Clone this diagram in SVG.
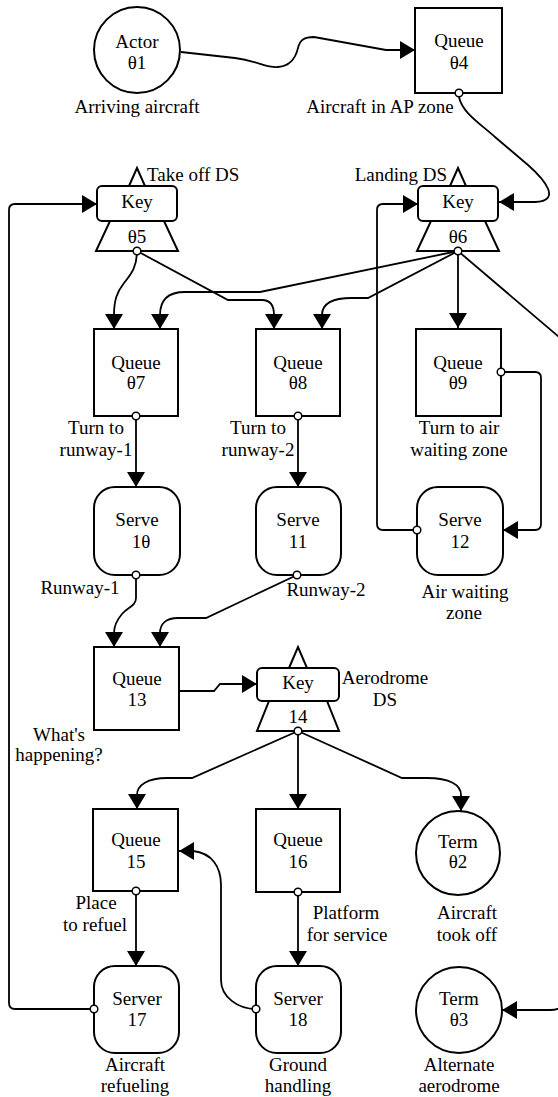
<svg xmlns="http://www.w3.org/2000/svg" width="558" height="1097" viewBox="0 0 558 1097">
<style>
text{font-family:"Liberation Serif","Times New Roman",serif;font-size:19px;fill:#000;text-anchor:middle}
.s{fill:#fff;stroke:#000;stroke-width:2}
.c{fill:none;stroke:#000;stroke-width:1.8;marker-end:url(#ah)}
.p{fill:#fff;stroke:#000;stroke-width:1.5}
.st{text-anchor:start}
.en{text-anchor:end}
</style>
<defs>
<marker id="ah" viewBox="0 0 15 18" refX="15" refY="9" markerWidth="15" markerHeight="18" markerUnits="userSpaceOnUse" orient="auto">
<path d="M0,0 L15,9 L0,18 z" fill="#000"/>
</marker>
</defs>
<rect width="558" height="1097" fill="#fff"/>
<g id="connectors">
<path class="c" d="M181,52 L235,58 C258,61 266,68 278,67 C292,66 296,56 298,48 C300,40 304,37 314,37 L386,50 L415,50"/>
<path class="c" d="M459,97 C462,112 478,122 495,137 L528,165 C545,180 562,201 535,202 L499,202"/>
<path class="c" d="M94,1009 L15,1009 Q9,1009 9,1003 L9,210 Q9,204 15,204 L97,204"/>
<path class="c" d="M417,530 L383,530 Q377,530 377,524 L377,210 Q377,204 383,204 L418,204"/>
<path class="c" d="M501,372 L535,372 Q541,372 541,378 L541,524 Q541,530 535,530 L503,530"/>
<path class="c" d="M137,251 C137,268 130,275 124,283 C117,292 114,300 114,315 L114,329"/>
<path class="c" d="M137,251 L228,300 L262,300 C270,300 274,305 274,315 L274,329"/>
<path class="c" d="M458,251 L260,292 L185,292 C168,292 160,300 160,315 L160,329"/>
<path class="c" d="M458,251 L368,298 L352,298 C330,298 322,305 322,315 L322,329"/>
<path class="c" d="M458,251 L458,328"/>
<path class="c" d="M458,251 L566,343 L566,995 C566,1006 560,1010 550,1010 L502,1010"/>
<path class="c" d="M136,416 L136,487"/>
<path class="c" d="M298,416 L298,487"/>
<path class="c" d="M136,575 L136,598 C136,606 128,607 122,614 C116,621 114,626 114,633 L114,647"/>
<path class="c" d="M297,575 L206,618 L178,618 C166,618 160,624 160,633 L160,647"/>
<path class="c" d="M179,691 L214,691 L220,684 L257,684"/>
<path class="c" d="M298,731 L192,778 L167,778 C148,778 137,785 137,795 L137,809"/>
<path class="c" d="M298,731 L298,809"/>
<path class="c" d="M298,731 L402,778 L427,778 C450,778 461,785 461,795 L461,811"/>
<path class="c" d="M136,891 L136,966"/>
<path class="c" d="M298,892 L298,966"/>
<path class="c" d="M256,1009 C238,1009 221,997 221,980 L221,885 C221,867 212,853 193,851 L179,851"/>
</g>
<g id="actor1">
<circle class="s" cx="137" cy="50" r="43"/>
<text x="137" y="48">Actor</text>
<text x="137" y="69">θ1</text>
<text x="137" y="113">Arriving aircraft</text>
</g>
<g id="queue4">
<rect class="s" x="415" y="8" width="87" height="85"/>
<text x="459" y="47">Queue</text>
<text x="459" y="69">θ4</text>
<circle class="p" cx="459" cy="93" r="3.8"/>
<text x="380" y="113">Aircraft in AP zone</text>
</g>
<g id="key5">
<polygon class="s" points="129,186 137,168 145,186"/>
<polygon class="s" points="110,221 164,221 178,251 96,251"/>
<rect class="s" x="97" y="186" width="80" height="35" rx="5"/>
<text x="137" y="208">Key</text>
<text x="137" y="243">θ5</text>
<circle class="p" cx="137" cy="251" r="3.8"/>
<text class="st" x="147" y="181">Take off DS</text>
</g>
<g id="key6">
<polygon class="s" points="450,186 458,168 466,186"/>
<polygon class="s" points="431,221 485,221 499,251 417,251"/>
<rect class="s" x="418" y="186" width="80" height="35" rx="5"/>
<text x="458" y="208">Key</text>
<text x="458" y="243">θ6</text>
<circle class="p" cx="458" cy="251" r="3.8"/>
<text class="en" x="447" y="181">Landing DS</text>
</g>
<g id="queue7">
<rect class="s" x="94" y="329" width="84" height="87"/>
<text x="136" y="369">Queue</text>
<text x="136" y="389">θ7</text>
<circle class="p" cx="136" cy="416" r="3.8"/>
<text x="96" y="434">Turn to</text>
<text x="96" y="456">runway-1</text>
</g>
<g id="queue8">
<rect class="s" x="256" y="329" width="84" height="87"/>
<text x="298" y="369">Queue</text>
<text x="298" y="389">θ8</text>
<circle class="p" cx="298" cy="416" r="3.8"/>
<text x="258" y="434">Turn to</text>
<text x="258" y="456">runway-2</text>
</g>
<g id="queue9">
<rect class="s" x="416" y="329" width="85" height="87"/>
<text x="458" y="369">Queue</text>
<text x="458" y="389">θ9</text>
<circle class="p" cx="501" cy="372" r="3.8"/>
<text x="459" y="434">Turn to air</text>
<text x="459" y="456">waiting zone</text>
</g>
<g id="serve10">
<rect class="s" x="94" y="487" width="86" height="88" rx="21"/>
<text x="137" y="526">Serve</text>
<text x="141" y="548">1θ</text>
<circle class="p" cx="136" cy="575" r="3.8"/>
<text x="80" y="594">Runway-1</text>
</g>
<g id="serve11">
<rect class="s" x="256" y="487" width="85" height="88" rx="21"/>
<text x="298" y="526">Serve</text>
<text x="298" y="548">11</text>
<circle class="p" cx="297" cy="575" r="3.8"/>
<text x="326" y="596">Runway-2</text>
</g>
<g id="serve12">
<rect class="s" x="417" y="487" width="86" height="88" rx="21"/>
<text x="460" y="526">Serve</text>
<text x="460" y="548">12</text>
<circle class="p" cx="417" cy="530" r="3.8"/>
<text x="465" y="598">Air waiting</text>
<text x="464" y="619">zone</text>
</g>
<g id="queue13">
<rect class="s" x="94" y="647" width="85" height="83"/>
<text x="137" y="685">Queue</text>
<text x="137" y="706">13</text>
<text x="59" y="741">What's</text>
<text x="59" y="761">happening?</text>
</g>
<g id="key14">
<polygon class="s" points="289,668 298,647 307,668"/>
<polygon class="s" points="269,701 327,701 339,731 257,731"/>
<rect class="s" x="257" y="668" width="82" height="33" rx="5"/>
<text x="298" y="689">Key</text>
<text x="298" y="723">14</text>
<circle class="p" cx="298" cy="731" r="3.8"/>
<text x="385" y="684">Aerodrome</text>
<text x="385" y="706">DS</text>
</g>
<g id="queue15">
<rect class="s" x="93" y="809" width="85" height="82"/>
<text x="136" y="846">Queue</text>
<text x="136" y="868">15</text>
<circle class="p" cx="136" cy="891" r="3.8"/>
<text x="96" y="909">Place</text>
<text x="95" y="931">to refuel</text>
</g>
<g id="queue16">
<rect class="s" x="256" y="809" width="84" height="83"/>
<text x="298" y="846">Queue</text>
<text x="298" y="868">16</text>
<circle class="p" cx="298" cy="892" r="3.8"/>
<text x="346" y="919">Platform</text>
<text x="347" y="941">for service</text>
</g>
<g id="term2">
<circle class="s" cx="458" cy="853" r="42"/>
<text x="458" y="848">Term</text>
<text x="458" y="868">θ2</text>
<text x="467" y="919">Aircraft</text>
<text x="467" y="941">took off</text>
</g>
<g id="server17">
<rect class="s" x="94" y="966" width="85" height="87" rx="21"/>
<text x="137" y="1005">Server</text>
<text x="137" y="1026">17</text>
<circle class="p" cx="94" cy="1009" r="3.8"/>
<text x="135" y="1071">Aircraft</text>
<text x="135" y="1092">refueling</text>
</g>
<g id="server18">
<rect class="s" x="256" y="966" width="85" height="87" rx="21"/>
<text x="298" y="1005">Server</text>
<text x="298" y="1026">18</text>
<circle class="p" cx="256" cy="1009" r="3.8"/>
<text x="298" y="1071">Ground</text>
<text x="298" y="1092">handling</text>
</g>
<g id="term3">
<circle class="s" cx="459" cy="1010" r="43"/>
<text x="459" y="1005">Term</text>
<text x="459" y="1026">θ3</text>
<text x="459" y="1071">Alternate</text>
<text x="459" y="1092">aerodrome</text>
</g>
</svg>
